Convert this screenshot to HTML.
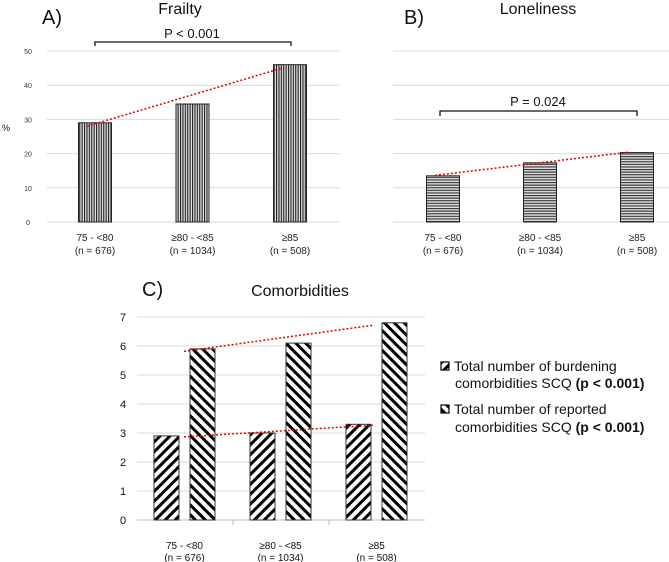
<!DOCTYPE html>
<html><head><meta charset="utf-8"><style>
body{margin:0;background:#fff;}
svg{display:block;font-family:"Liberation Sans",sans-serif;}
</style></head><body>
<svg id="s" width="669" height="562" viewBox="0 0 669 562" xmlns="http://www.w3.org/2000/svg">
<defs>
<pattern id="pv" width="2.4" height="4" patternUnits="userSpaceOnUse"><rect width="2.4" height="4" fill="#ddd"/><rect width="1.1" height="4" fill="#222"/></pattern>
<pattern id="ph" width="4" height="2.6" patternUnits="userSpaceOnUse"><rect width="4" height="2.6" fill="#ddd"/><rect width="4" height="1.1" fill="#333"/></pattern>
<pattern id="pb" width="7" height="7" patternUnits="userSpaceOnUse" patternTransform="rotate(45)"><rect width="7" height="7" fill="#fff"/><rect width="3" height="7" fill="#000"/></pattern>
<pattern id="pr" width="7" height="7" patternUnits="userSpaceOnUse" patternTransform="rotate(-45)"><rect width="7" height="7" fill="#fff"/><rect width="3" height="7" fill="#000"/></pattern>
</defs>
<g id="gA"></g>
<g id="gB"></g>
<g id="gC"></g>
</svg>
<script>
const categories=["75 - <80","≥80 - <85","≥85"];
const nLabels=["(n = 676)","(n = 1034)","(n = 508)"];
const frailty=[29,34.5,46];
const loneliness=[13.5,17.3,20.3];
const burdening=[2.9,3.0,3.3];
const reported=[5.9,6.1,6.8];
const ticksAB=[0,10,20,30,40,50];
const ticksC=[0,1,2,3,4,5,6,7];
const NS="http://www.w3.org/2000/svg";
function mk(p,t,a,txt){const e=document.createElementNS(NS,t);for(const k in a)e.setAttribute(k,a[k]);if(txt!==undefined)e.textContent=txt;p.appendChild(e);return e;}

function trend(vals){const n=vals.length;let mx=0,my=0;for(let i=0;i<n;i++){mx+=i;my+=vals[i];}mx/=n;my/=n;let sxy=0,sxx=0;for(let i=0;i<n;i++){sxy+=(i-mx)*(vals[i]-my);sxx+=(i-mx)*(i-mx);}const b=sxy/sxx;return [my-b*mx,my+b*(n-1-mx)];}

function panelAB(g,vals,x0,x1,bx0,step,bw,fill,showTicks,name){
  const y=v=>222-v*3.42;
  ticksAB.forEach(t=>{
    const l=mk(g,'line',{x1:x0,x2:x1,y1:y(t),y2:y(t),stroke:'#d9d9d9','stroke-width':1});
    
    if(showTicks){const tx=mk(g,'text',{x:28,y:y(t)+3,'font-size':7,'text-anchor':'middle',fill:'#333'},t);
      }
  });
  vals.forEach((v,i)=>{
    const cx=bx0+i*step;
    const r=mk(g,'rect',{x:cx-bw/2,y:y(v),width:bw,height:y(0)-y(v),fill:fill,stroke:'#222','stroke-width':1});
    
    const t1=mk(g,'text',{x:cx,y:241,'font-size':10,'text-anchor':'middle',fill:'#222'},categories[i]);
    
    const t2=mk(g,'text',{x:cx,y:254,'font-size':10,'text-anchor':'middle',fill:'#222'},nLabels[i]);
    
  });
  const tr=trend(vals);
  const ln=mk(g,'line',{x1:bx0-8,y1:y(tr[0]),x2:bx0+2*step-8,y2:y(tr[1]),stroke:'#e00000','stroke-width':1.5,'stroke-dasharray':'2,2'});
  
}
const gA=document.getElementById('gA');
panelAB(gA,frailty,47,340,95,97.5,33,'url(#pv)',true,'frailty');
const gB=document.getElementById('gB');
panelAB(gB,loneliness,393,669,443,97,33,'url(#ph)',false,'loneliness');

function txt(g,x,y,s,t,name,anchor,bold){const e=mk(g,'text',{x:x,y:y,'font-size':s,'text-anchor':anchor||'middle',fill:'#111','font-weight':bold?'bold':'normal'},t);return e;}
txt(gA,42,24,20,'A)','panel-label-a','start');
txt(gA,180,14,16,'Frailty','chart-title');
txt(gA,6,131,9,'%','y-axis-title');
let br=mk(gA,'path',{d:'M95,46 V42 H291 V46',fill:'none',stroke:'#111','stroke-width':1.3});
txt(gA,192,38,13,'P < 0.001','p-value-label');
txt(gB,404,24,20,'B)','panel-label-b','start');
txt(gB,538,14,16,'Loneliness','chart-title');
br=mk(gB,'path',{d:'M440,116 V111 H637 V116',fill:'none',stroke:'#111','stroke-width':1.3});
txt(gB,538,106,13,'P = 0.024','p-value-label');

const gC=document.getElementById('gC');
const yc=v=>520-v*29;
ticksC.forEach(t=>{
  const l=mk(gC,'line',{x1:137,x2:425,y1:yc(t),y2:yc(t),stroke:t?'#d9d9d9':'#bfbfbf','stroke-width':1});
  
  txt(gC,123,yc(t)+4,11,t,'y-tick-label');
});
[233,329].forEach(x=>{const l=mk(gC,'line',{x1:x,x2:x,y1:520,y2:525,stroke:'#bfbfbf'});});
const cC=i=>184.5+i*96;
categories.forEach((c,i)=>{
  let r=mk(gC,'rect',{x:cC(i)-30.5,y:yc(burdening[i]),width:25,height:yc(0)-yc(burdening[i]),fill:'url(#pb)',stroke:'#333','stroke-width':1});
  
  r=mk(gC,'rect',{x:cC(i)+5.5,y:yc(reported[i]),width:25,height:yc(0)-yc(reported[i]),fill:'url(#pr)',stroke:'#333','stroke-width':1});
  
  txt(gC,cC(i),549,10,c,'x-tick-label');
  txt(gC,cC(i),561,10,nLabels[i],'x-tick-sample-size');
});
[[burdening,'burdening-trend-line'],[reported,'reported-trend-line']].forEach(([v,n])=>{
  const tr=trend(v);
  const l=mk(gC,'line',{x1:184,y1:yc(tr[0]),x2:373,y2:yc(tr[1]),stroke:'#e00000','stroke-width':1.5,'stroke-dasharray':'2,2'});
  
});
txt(gC,142,296,20,'C)','panel-label-c','start');
txt(gC,300,296,16,'Comorbidities','chart-title');
let sw=mk(gC,'rect',{x:441,y:362,width:8,height:8,fill:'url(#pb)',stroke:'#000','stroke-width':1.2});
sw=mk(gC,'rect',{x:441,y:405,width:8,height:8,fill:'url(#pr)',stroke:'#000','stroke-width':1.2});
txt(gC,454,371,14,'Total number of burdening','legend-entry-burdening','start');
let t=txt(gC,455,388,14,'comorbidities SCQ ','legend-entry-burdening-2','start');
mk(t,'tspan',{'font-weight':'bold'},'(p < 0.001)');
txt(gC,454,414,14,'Total number of reported','legend-entry-reported','start');
t=txt(gC,455,432,14,'comorbidities SCQ ','legend-entry-reported-2','start');
mk(t,'tspan',{'font-weight':'bold'},'(p < 0.001)');
</script>
</body></html>
